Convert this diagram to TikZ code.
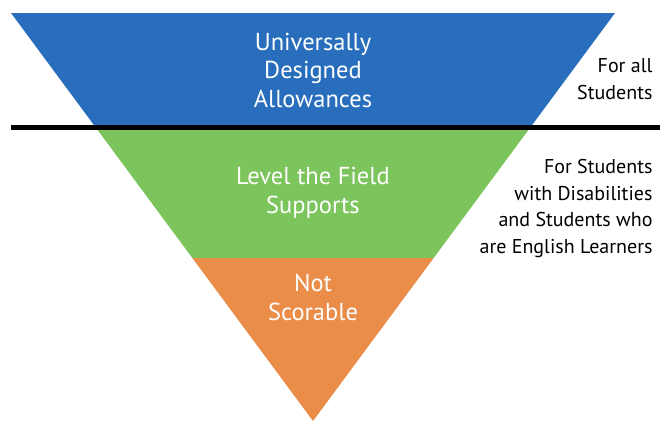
\documentclass[tikz,border=0pt]{standalone}
\usepackage{fontspec}
\setmainfont{PT Sans}
\usetikzlibrary{calc}
\definecolor{udablue}{RGB}{40,110,188}
\definecolor{ltfgreen}{RGB}{124,196,92}
\definecolor{nsorange}{RGB}{233,141,72}
\tikzset{
  band/.style={white,font=\fontsize{24.5}{28.5}\selectfont,align=center},
  side/.style={black,font=\fontsize{20}{26.5}\selectfont,align=right},
}
\begin{document}
\begin{tikzpicture}[x=1pt,y=-1pt]
\useasboundingbox (0,0) rectangle (660,423);

\coordinate (tl) at (11,13);
\coordinate (tr) at (615,13);
\coordinate (apex) at (313,421);

% the three bands
\fill[udablue] (tl) -- (tr) -- ($(tr)!0.2794!(apex)$) -- ($(tl)!0.2794!(apex)$) -- cycle;
\fill[ltfgreen] ($(tl)!0.2794!(apex)$) -- ($(tr)!0.2794!(apex)$) -- ($(tr)!0.6005!(apex)$) -- ($(tl)!0.6005!(apex)$) -- cycle;
\fill[nsorange] ($(tl)!0.6005!(apex)$) -- ($(tr)!0.6005!(apex)$) -- (apex) -- cycle;

\draw[line width=5pt] (11,127) -- (660,127);

\node[band,anchor=base] (uda) at (313,107) {Universally\\Designed\\Allowances};
\node[band,anchor=base] (ltf) at (313,213) {Level the Field\\Supports};
\node[band,anchor=base] (ns) at (313,320) {Not\\Scorable};

\node[side,anchor=base east] (all) at (656,99) {For all\\Students};
\node[side,anchor=base east] (swd) at (656,253) {For Students\\with Disabilities\\and Students who\\are English Learners};

\end{tikzpicture}
\end{document}
